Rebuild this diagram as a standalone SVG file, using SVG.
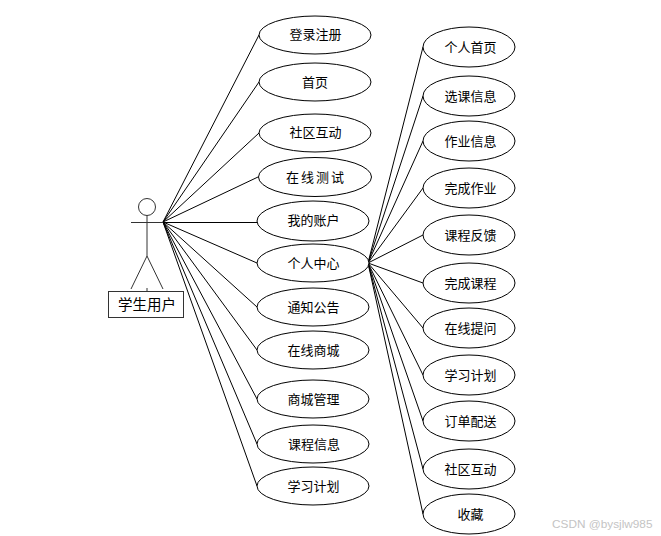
<svg xmlns="http://www.w3.org/2000/svg" width="661" height="536" viewBox="0 0 661 536">
<style>
.n ellipse{fill:#fff;stroke:#000;stroke-width:1}
.n text{font-family:"Noto Sans CJK SC","Liberation Sans",sans-serif;font-size:13px;fill:#000;text-anchor:middle}
#connectors line{stroke:#000;stroke-width:1;fill:none}
#actor circle,#actor line,#actor rect{fill:#fff;stroke:#333;stroke-width:1}
#actor line{fill:none}
#actor text{font-family:"Noto Sans CJK SC","Liberation Sans",sans-serif;font-size:14.5px;fill:#000;text-anchor:middle}
#wm{font-family:"Liberation Sans",sans-serif;font-size:11.8px;fill:#c4c4c4}
</style>
<rect width="661" height="536" fill="#fff"/>
<g id="connectors">
<line x1="163" y1="222" x2="259" y2="35"/>
<line x1="163" y1="222" x2="259" y2="82"/>
<line x1="163" y1="222" x2="259" y2="133"/>
<line x1="163" y1="222" x2="258" y2="177"/>
<line x1="163" y1="222.500" x2="257" y2="222.500"/>
<line x1="163" y1="222" x2="257" y2="263"/>
<line x1="163" y1="222" x2="257" y2="307"/>
<line x1="163" y1="222" x2="257" y2="350"/>
<line x1="163" y1="222" x2="257" y2="399"/>
<line x1="163" y1="222" x2="257" y2="444"/>
<line x1="163" y1="222" x2="257" y2="486"/>
<line x1="368" y1="263" x2="423" y2="47"/>
<line x1="368" y1="263" x2="423" y2="96"/>
<line x1="368" y1="263" x2="423" y2="141"/>
<line x1="368" y1="263" x2="423" y2="188"/>
<line x1="368" y1="263" x2="423" y2="235"/>
<line x1="368" y1="263" x2="423" y2="283"/>
<line x1="368" y1="263" x2="423" y2="328"/>
<line x1="368" y1="263" x2="423" y2="375"/>
<line x1="368" y1="263" x2="423" y2="421"/>
<line x1="368" y1="263" x2="423" y2="469"/>
<line x1="368" y1="263" x2="423" y2="514"/>
</g>
<g id="actor">
<circle cx="147" cy="207" r="8.5"/>
<line x1="147" y1="215.500" x2="147" y2="256"/>
<line x1="147" y1="288" x2="147" y2="291"/>
<line x1="131" y1="222.500" x2="163" y2="222.500"/>
<line x1="147" y1="256" x2="131" y2="289"/>
<line x1="147" y1="256" x2="163" y2="289"/>
<rect x="108.500" y="291.500" width="75" height="26"/>
<text x="147" y="310">学生用户</text>
</g>
<g id="u1" class="n"><ellipse cx="315" cy="35" rx="56" ry="19"/><text x="315.500" y="39">登录注册</text></g>
<g id="u2" class="n"><ellipse cx="315" cy="82" rx="56" ry="19"/><text x="315" y="86.500">首页</text></g>
<g id="u3" class="n"><ellipse cx="315" cy="133" rx="56" ry="19"/><text x="315.500" y="137">社区互动</text></g>
<g id="u4" class="n"><ellipse cx="315" cy="177" rx="56.500" ry="19.500"/><text x="316" y="181.500" style="letter-spacing:2px">在线测试</text></g>
<g id="u5" class="n"><ellipse cx="313" cy="221" rx="56" ry="20"/><text x="313.500" y="225">我的账户</text></g>
<g id="u6" class="n"><ellipse cx="313" cy="263" rx="56" ry="19"/><text x="313.500" y="267.500">个人中心</text></g>
<g id="u7" class="n"><ellipse cx="313" cy="307" rx="56" ry="19"/><text x="313.500" y="311.500">通知公告</text></g>
<g id="u8" class="n"><ellipse cx="313" cy="350" rx="56" ry="19"/><text x="313.500" y="354.500">在线商城</text></g>
<g id="u9" class="n"><ellipse cx="313" cy="399" rx="56" ry="19"/><text x="313.500" y="403.500">商城管理</text></g>
<g id="u10" class="n"><ellipse cx="313" cy="444" rx="56" ry="19"/><text x="314" y="448.500">课程信息</text></g>
<g id="u11" class="n"><ellipse cx="313" cy="486" rx="56" ry="19"/><text x="313.500" y="490.500">学习计划</text></g>
<g id="r1" class="n"><ellipse cx="469" cy="47" rx="46" ry="20"/><text x="470.500" y="51.500">个人首页</text></g>
<g id="r2" class="n"><ellipse cx="469" cy="96" rx="46" ry="20"/><text x="470.500" y="100.500">选课信息</text></g>
<g id="r3" class="n"><ellipse cx="469" cy="141" rx="46" ry="20"/><text x="470.500" y="145.500">作业信息</text></g>
<g id="r4" class="n"><ellipse cx="469" cy="188" rx="46" ry="20"/><text x="470.500" y="192.500">完成作业</text></g>
<g id="r5" class="n"><ellipse cx="469" cy="235" rx="46" ry="20"/><text x="470.500" y="239.500">课程反馈</text></g>
<g id="r6" class="n"><ellipse cx="469" cy="283" rx="46" ry="20"/><text x="470.500" y="287.500">完成课程</text></g>
<g id="r7" class="n"><ellipse cx="469" cy="328" rx="46" ry="20"/><text x="470.500" y="332.500">在线提问</text></g>
<g id="r8" class="n"><ellipse cx="469" cy="375" rx="46" ry="20"/><text x="470.500" y="379.500">学习计划</text></g>
<g id="r9" class="n"><ellipse cx="469" cy="421" rx="46" ry="20"/><text x="470.500" y="425.500">订单配送</text></g>
<g id="r10" class="n"><ellipse cx="469" cy="469" rx="46" ry="20"/><text x="470.500" y="473.500">社区互动</text></g>
<g id="r11" class="n"><ellipse cx="469" cy="514" rx="46" ry="20"/><text x="470.500" y="518.500">收藏</text></g>
<text id="wm" x="552" y="528">CSDN @bysjlw985</text>
</svg>
